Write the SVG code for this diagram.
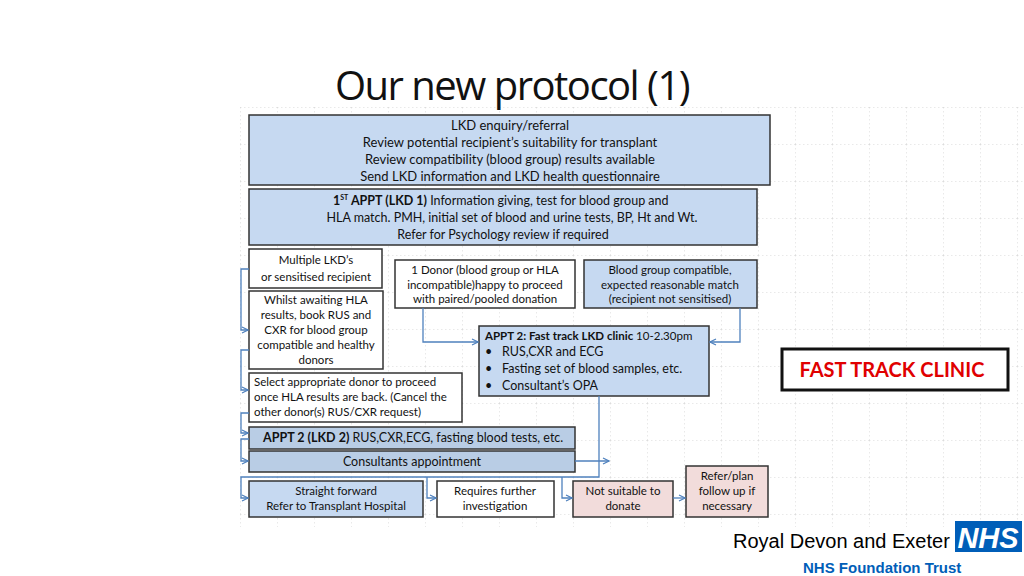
<svg xmlns="http://www.w3.org/2000/svg" width="1024" height="576" viewBox="0 0 1024 576">
<defs>
<marker id="ar" markerWidth="8" markerHeight="8" refX="7" refY="4" orient="auto" markerUnits="userSpaceOnUse"><path d="M1,1 L7,4 L1,7" fill="none" stroke="#4f81bd" stroke-width="1.2"/></marker>
<pattern id="grid" x="240" y="107" width="37" height="37" patternUnits="userSpaceOnUse"><path d="M0,0 H37 M0,0 V37" fill="none" stroke="#c8c8c8" stroke-width="0.8" stroke-dasharray="1.5 2.5"/></pattern>
</defs>
<style>
text{font-family:Lato,"Open Sans","Liberation Sans",sans-serif;font-size:12.5px;fill:#111}
.c{text-anchor:middle}
.b{font-weight:bold}
.lb{fill:#c6d9f1;stroke:#333;stroke-width:1.5}
.db{fill:#b9cde5;stroke:#333;stroke-width:1.5}
.w{fill:#fff;stroke:#333;stroke-width:1.5}
.pk{fill:#f2dcdb;stroke:#333;stroke-width:1.5}
.cn{fill:none;stroke:#4f81bd;stroke-width:1.3}
.s{font-size:11.5px}
.l{font-size:13px}
.sup{font-size:7px}
</style>
<rect width="1024" height="576" fill="#fff"/>
<rect x="240" y="107" width="785" height="420" fill="url(#grid)"/>
<text x="512" y="100" class="c" style="font-family:'Open Sans','Liberation Sans',sans-serif;font-size:40px;letter-spacing:-1.5px">Our new protocol (1)</text>

<g id="n1"><rect class="lb" x="249" y="115" width="521" height="70"/>
<text x="510" y="130" class="c l">LKD enquiry/referral</text>
<text x="510" y="147" class="c l">Review potential recipient’s suitability for transplant</text>
<text x="510" y="164" class="c l">Review compatibility (blood group) results available</text>
<text x="510" y="181" class="c l">Send LKD information and LKD health questionnaire</text></g>

<g id="n2"><rect class="lb" x="249" y="189" width="508" height="56"/>
<text x="333" y="205"><tspan class="b">1</tspan><tspan class="b sup" dy="-5">ST</tspan><tspan class="b" dy="5"> APPT (LKD 1)</tspan> Information giving, test for blood group and</text>
<text x="512" y="222" class="c">HLA match. PMH, initial set of blood and urine tests, BP, Ht and Wt.</text>
<text x="503" y="239" class="c">Refer for Psychology review if required</text></g>

<g id="n3"><rect class="w" x="249" y="249" width="133" height="39"/>
<text x="316" y="264" class="c s">Multiple LKD’s</text>
<text x="316" y="281" class="c s">or sensitised recipient</text></g>

<g id="n4"><rect class="w" x="249" y="291" width="134" height="78"/>
<text x="316" y="304" class="c s">Whilst awaiting HLA</text>
<text x="316" y="319" class="c s">results, book RUS and</text>
<text x="316" y="334" class="c s">CXR for blood group</text>
<text x="316" y="349" class="c s">compatible and healthy</text>
<text x="316" y="364" class="c s">donors</text></g>

<g id="n5"><rect class="w" x="395" y="260" width="180" height="48"/>
<text x="485" y="274" class="c s">1 Donor (blood group or HLA</text>
<text x="485" y="289" class="c s">incompatible)happy to proceed</text>
<text x="485" y="303" class="c s">with paired/pooled donation</text></g>

<g id="n6"><rect class="lb" x="584" y="260" width="173" height="48"/>
<text x="670" y="274" class="c s">Blood group compatible,</text>
<text x="670" y="289" class="c s">expected reasonable match</text>
<text x="670" y="303" class="c s">(recipient not sensitised)</text></g>

<g id="n7"><rect class="lb" x="479" y="326" width="230" height="70"/>
<text x="485" y="340" class="s"><tspan class="b">APPT 2: Fast track LKD clinic</tspan> 10-2.30pm</text>
<text x="485" y="356">•</text><text x="502" y="356">RUS,CXR and ECG</text>
<text x="485" y="373">•</text><text x="502" y="373">Fasting set of blood samples, etc.</text>
<text x="485" y="390">•</text><text x="502" y="390">Consultant’s OPA</text></g>

<g id="n8"><rect class="w" x="249" y="373" width="213" height="49"/>
<text x="254" y="386" class="s">Select appropriate donor to proceed</text>
<text x="254" y="401" class="s">once HLA results are back. (Cancel the</text>
<text x="254" y="416" class="s">other donor(s) RUS/CXR request)</text></g>

<g id="n9"><rect class="db" x="249" y="427" width="326" height="22"/>
<text x="263" y="442"><tspan class="b">APPT 2 (LKD 2)</tspan> RUS,CXR,ECG, fasting blood tests, etc.</text></g>

<g id="n10"><rect class="db" x="249" y="451" width="326" height="21"/>
<text x="412" y="466" class="c">Consultants appointment</text></g>

<g id="n11"><rect class="lb" x="249" y="481" width="174" height="36"/>
<text x="336" y="495" class="c s">Straight forward</text>
<text x="336" y="510" class="c s">Refer to Transplant Hospital</text></g>

<g id="n12"><rect class="w" x="437" y="481" width="117" height="36"/>
<text x="495" y="495" class="c s">Requires further</text>
<text x="495" y="510" class="c s">investigation</text></g>

<g id="n13"><rect class="pk" x="573" y="481" width="100" height="36"/>
<text x="623" y="495" class="c s">Not suitable to</text>
<text x="623" y="510" class="c s">donate</text></g>

<g id="n14"><rect class="pk" x="686" y="466" width="82" height="51"/>
<text x="727" y="480" class="c s">Refer/plan</text>
<text x="727" y="495" class="c s">follow up if</text>
<text x="727" y="510" class="c s">necessary</text></g>

<g id="ftc"><rect x="782" y="349" width="226" height="41" fill="#fff" stroke="#111" stroke-width="3"/>
<text x="892" y="377" class="c b" style="fill:#e00000;font-size:20px">FAST TRACK CLINIC</text></g>

<g id="connectors">
<path class="cn" d="M249,269 H241 V330 H248" marker-end="url(#ar)"/>
<path class="cn" d="M249,350 H241 V390 H248" marker-end="url(#ar)"/>
<path class="cn" d="M249,413 H241 V433 H248" marker-end="url(#ar)"/>
<path class="cn" d="M249,439 H241 V461 H248" marker-end="url(#ar)"/>
<path class="cn" d="M599,396 V477 H241 V498 H248" marker-end="url(#ar)"/>
<path class="cn" d="M427,477 V498 H436" marker-end="url(#ar)"/>
<path class="cn" d="M562,477 V498 H572" marker-end="url(#ar)"/>
<path class="cn" d="M575,461 H609" marker-end="url(#ar)"/>
<path class="cn" d="M673,498 H685" marker-end="url(#ar)"/>
<path class="cn" d="M423,308 V342 H478" marker-end="url(#ar)"/>
<path class="cn" d="M740,308 V342 H710" marker-end="url(#ar)"/>
</g>

<g id="logo">
<text x="733" y="548" style="font-family:'Liberation Sans',Arial,sans-serif;font-size:20px;fill:#000">Royal Devon and Exeter</text>
<rect x="955" y="521" width="67" height="31" fill="#005eb8"/>
<text x="988" y="548" class="c" style="font-family:'Liberation Sans',Arial,sans-serif;font-size:29px;font-weight:bold;font-style:italic;fill:#fff">NHS</text>
<text x="803" y="573" style="font-family:'Liberation Sans',Arial,sans-serif;font-size:15px;font-weight:bold;fill:#005eb8">NHS Foundation Trust</text>
</g>
</svg>
